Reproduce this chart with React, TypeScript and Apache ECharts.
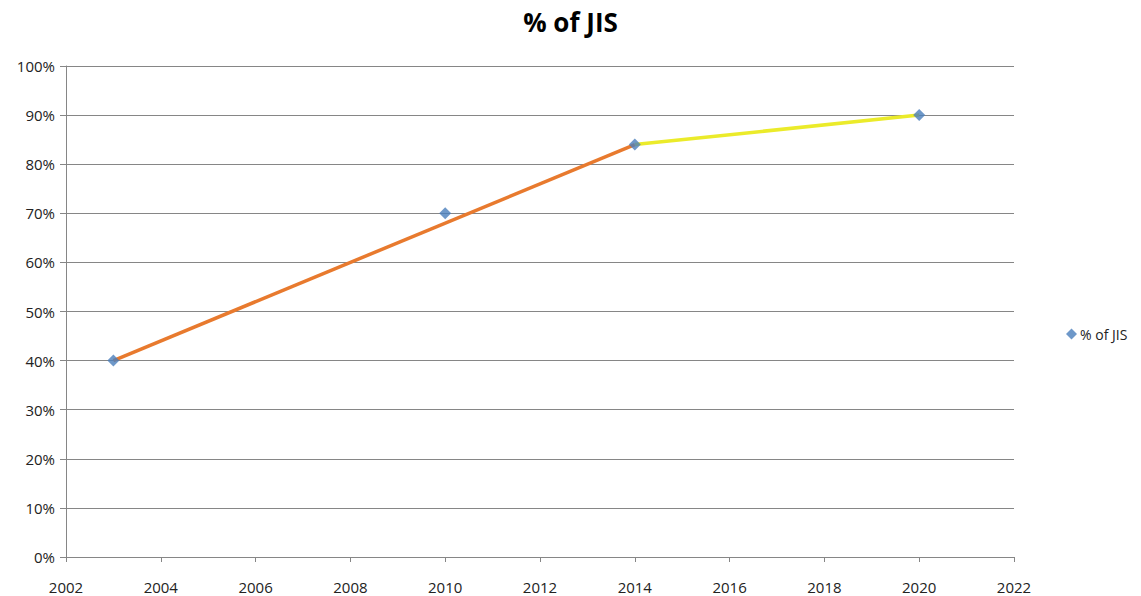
import React, { useEffect, useRef } from "react";
import * as echarts from "echarts";

const years = [2003, 2010, 2014, 2020];
const shares = [40, 70, 84, 90];
const orangeTrend: [number, number][] = [[2003, 40], [2014, 84]];
const yellowTrend: [number, number][] = [[2014, 84], [2020, 90]];
const titleText = "% of JIS";
const seriesName = "% of JIS";

const FONT = "'Open Sans', 'Liberation Sans', sans-serif";

export default function App() {
  const ref = useRef<HTMLDivElement>(null);
  useEffect(() => {
    if (!ref.current) return;
    const chart = echarts.init(ref.current, undefined, { renderer: "svg" });
    chart.setOption({
      animation: false,
      backgroundColor: "#ffffff",
      title: {
        text: titleText,
        left: "center",
        top: 4,
        textStyle: { fontFamily: FONT, fontWeight: "bold", fontSize: 26, color: "#000" },
      },
      legend: {
        data: [{ name: seriesName, icon: "diamond" }],
        orient: "vertical",
        left: 1061,
        top: 322,
        itemWidth: 11,
        itemHeight: 11,
        itemGap: 4,
        textStyle: { fontFamily: FONT, fontSize: 14, color: "#222", padding: [0, 0, 0, -2] },
      },
      grid: { left: 66, right: 127, top: 66, bottom: 39, containLabel: false },
      xAxis: {
        type: "value",
        min: 2002,
        max: 2022,
        interval: 2,
        axisLine: { show: true, lineStyle: { color: "#868686", width: 1 } },
        axisTick: { show: true, length: 5, inside: false, lineStyle: { color: "#868686" } },
        splitLine: { show: false },
        axisLabel: {
          fontFamily: FONT,
          fontSize: 15,
          color: "#222",
          margin: 22,
          formatter: (v: number) => String(v),
        },
      },
      yAxis: {
        type: "value",
        min: 0,
        max: 100,
        interval: 10,
        axisLine: { show: true, lineStyle: { color: "#868686", width: 1 } },
        axisTick: { show: true, length: 6, lineStyle: { color: "#868686" } },
        splitLine: { show: true, lineStyle: { color: "#868686", width: 1 } },
        axisLabel: { fontFamily: FONT, fontSize: 15, color: "#222", margin: 11, formatter: "{value}%" },
      },
      series: [
        {
          type: "line",
          name: "orange",
          data: orangeTrend,
          symbol: "none",
          lineStyle: { color: "#E87A2E", width: 3.5 },
          z: 2,
        },
        {
          type: "line",
          name: "yellow",
          data: yellowTrend,
          symbol: "none",
          lineStyle: { color: "#EBEB2A", width: 3.5 },
          z: 2,
        },
        {
          type: "scatter",
          name: seriesName,
          data: years.map((y, i) => [y, shares[i]]),
          symbol: "diamond",
          symbolSize: 12,
          itemStyle: { color: "#4A7EBB" },
          z: 3,
        },
      ],
    });
    return () => chart.dispose();
  }, []);
  return (
    <div
      ref={ref}
      style={{ position: "fixed", left: 0, top: 0, width: 1141, height: 596, background: "#fff" }}
    />
  );
}
